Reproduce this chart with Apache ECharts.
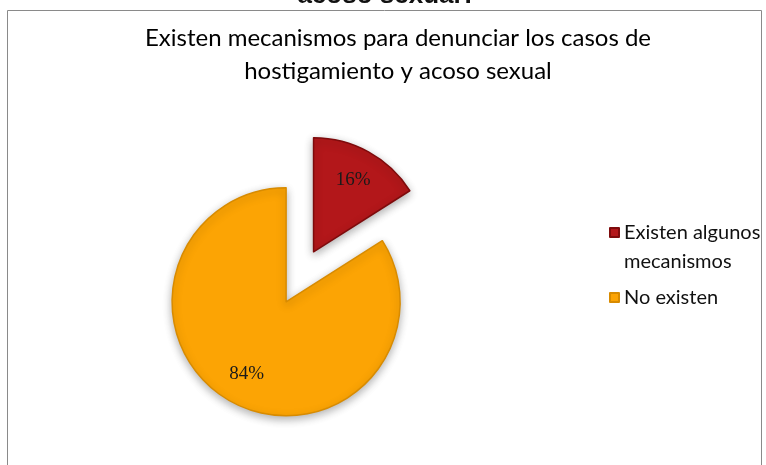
<!DOCTYPE html>
<html>
<head>
<meta charset="utf-8">
<script src="https://cdn.jsdelivr.net/npm/echarts@6/dist/echarts.min.js"></script>
<style>
  html, body { margin: 0; padding: 0; background: #ffffff; }
  #chart { width: 766px; height: 465px; }
</style>
</head>
<body>
<div id="chart"></div>
<script>
// Survey answers (percent of respondents)
const categories = ['Existen algunos mecanismos', 'No existen'];
const shares = [16, 84];
const sliceColors = ['#b3171a', '#fca404'];
const edgeColors = ['#7e0b0c', '#d88b00'];
// the leading empty line keeps the swatch level with the first text line
const legendLabels = {
  'Existen algunos mecanismos': '\nExisten algunos\nmecanismos',
  'No existen': 'No existen'
};

const titleText = 'Existen mecanismos para denunciar los casos de\nhostigamiento y acoso sexual';
const headerFragment = 'acoso sexual?';

const center = ['37.35%', '64.9%'];
const radius = 114;

const pieData = categories.map((name, i) => ({
  name,
  value: shares[i],
  selected: i === 0,
  itemStyle: { color: sliceColors[i], borderColor: edgeColors[i], borderWidth: 1.5 }
}));

const labelData = categories.map((name, i) => ({
  name,
  value: shares[i],
  selected: i === 0
}));

const chart = echarts.init(document.getElementById('chart'), null, { renderer: 'canvas' });

chart.setOption({
  backgroundColor: '#ffffff',
  animation: false,
  title: {
    text: titleText,
    left: 393,
    textAlign: 'center',
    top: 17,
    textStyle: {
      fontFamily: 'Lato',
      fontWeight: 'normal',
      fontSize: 24,
      lineHeight: 33,
      color: '#000000'
    }
  },
  graphic: [
    {
      type: 'rect',
      shape: { x: 7.5, y: 10.5, width: 754, height: 470 },
      style: { fill: 'none', stroke: '#8a8a8a', lineWidth: 1 },
      silent: true,
      z: 5
    },
    {
      type: 'text',
      x: 387,
      y: 9,
      style: {
        text: headerFragment,
        fontFamily: 'Liberation Sans',
        fontWeight: 'bold',
        fontSize: 26,
        fill: '#111',
        align: 'center',
        verticalAlign: 'bottom'
      },
      silent: true
    }
  ],
  legend: {
    orient: 'vertical',
    left: 604,
    top: 184,
    icon: 'rect',
    itemWidth: 9,
    itemHeight: 9,
    itemGap: 7,
    selectedMode: false,
    formatter: name => legendLabels[name],
    data: categories,
    textStyle: {
      fontFamily: 'Lato',
      fontSize: 20,
      lineHeight: 29,
      color: '#111111'
    }
  },
  series: [
    {
      type: 'pie',
      center,
      radius,
      startAngle: 90,
      clockwise: true,
      selectedMode: 'single',
      selectedOffset: 57,
      silent: true,
      label: { show: false },
      labelLine: { show: false },
      itemStyle: {
        shadowBlur: 8,
        shadowColor: 'rgba(0,0,0,0.3)',
        shadowOffsetY: 3
      },
      data: pieData
    },
    {
      // label ring: places the percentages part-way toward the rim
      type: 'pie',
      center,
      radius: [44, radius],
      startAngle: 90,
      clockwise: true,
      selectedMode: 'single',
      selectedOffset: 57,
      silent: true,
      itemStyle: { color: 'rgba(0,0,0,0)' },
      label: {
        show: true,
        position: 'inner',
        formatter: '{c}%',
        fontFamily: 'Liberation Serif',
        fontSize: 19,
        color: '#1a1a1a'
      },
      labelLine: { show: false },
      data: labelData
    }
  ]
});
</script>
</body>
</html>
